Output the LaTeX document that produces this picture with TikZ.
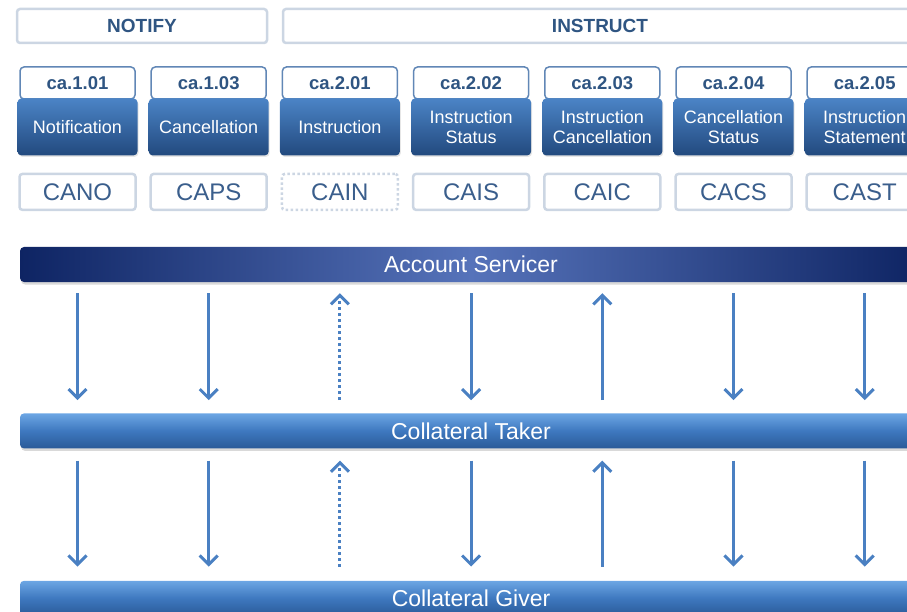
\documentclass[tikz,border=0pt]{standalone}
\usepackage{fontspec}
\setmainfont{Liberation Sans}
\usetikzlibrary{positioning,arrows.meta,shadows}
\definecolor{hdrblue}{HTML}{2F5582}
\definecolor{codeblue}{HTML}{3A5E8C}
\definecolor{paleline}{HTML}{CCD6E3}
\definecolor{tabline}{HTML}{6187B6}
\definecolor{msgtop}{HTML}{4B84C6}
\definecolor{msgbot}{HTML}{22497E}
\definecolor{navy}{HTML}{0E2463}
\definecolor{navymid}{HTML}{5673BA}
\definecolor{bartop}{HTML}{6CA6E4}
\definecolor{barmid}{HTML}{3E78BF}
\definecolor{barbot}{HTML}{2A5A98}
\definecolor{flowblue}{HTML}{4A80C2}
\tikzstyle{header} = [rectangle, draw=paleline, line width=2.5pt, fill=white, rounded corners=3pt, minimum height=34pt, text=hdrblue, font=\bfseries\fontsize{19}{22}\selectfont]
\tikzstyle{msgtab} = [rectangle, draw=tabline, line width=1.5pt, fill=white, rounded corners=4pt, minimum width=115pt, minimum height=32pt, text=hdrblue, font=\bfseries\fontsize{18.5}{20}\selectfont]
\tikzstyle{msgbox} = [rectangle, top color=msgtop, bottom color=msgbot, rounded corners=4pt, minimum width=120pt, minimum height=57pt, text=white, align=center, font=\fontsize{18}{20}\selectfont, drop shadow={opacity=0.2, shadow xshift=1pt, shadow yshift=-1.5pt}]
\tikzstyle{code} = [rectangle, draw=paleline, line width=2.5pt, fill=white, rounded corners=3pt, minimum width=116pt, minimum height=36pt, text=codeblue, font=\fontsize{24}{26}\selectfont]
\tikzstyle{bar} = [rectangle, rounded corners=4pt, minimum width=902pt, minimum height=35pt, text=white, font=\fontsize{23}{25}\selectfont, drop shadow={opacity=0.3, shadow xshift=1pt, shadow yshift=-2.5pt}]
\tikzstyle{flow} = [draw=flowblue, line width=3pt, -{Straight Barb[length=9pt, width=18pt]}]

\begin{document}
\begin{tikzpicture}[x=1pt, y=-1pt]
    \useasboundingbox (0,0) rectangle (907,612);
    \clip (0,0) rectangle (907,612);

    % headers
    \node[header, minimum width=250pt] (notify) at (142,26) {NOTIFY};
    \node[header, minimum width=634pt] (instruct) at (600,26) {INSTRUCT};

    % message tabs
    \node[msgtab] (tab1) at (77.5,83) {ca.1.01};
    \node[msgtab, right=14.7pt of tab1] (tab2) {ca.1.03};
    \node[msgtab, right=14.7pt of tab2] (tab3) {ca.2.01};
    \node[msgtab, right=14.7pt of tab3] (tab4) {ca.2.02};
    \node[msgtab, right=14.7pt of tab4] (tab5) {ca.2.03};
    \node[msgtab, right=14.7pt of tab5] (tab6) {ca.2.04};
    \node[msgtab, right=14.7pt of tab6] (tab7) {ca.2.05};

    % message names
    \node[msgbox, below=-1.5pt of tab1] (msg1) {Notification};
    \node[msgbox, below=-1.5pt of tab2] (msg2) {Cancellation};
    \node[msgbox, below=-1.5pt of tab3] (msg3) {Instruction};
    \node[msgbox, below=-1.5pt of tab4] (msg4) {Instruction\\Status};
    \node[msgbox, below=-1.5pt of tab5] (msg5) {Instruction\\Cancellation};
    \node[msgbox, below=-1.5pt of tab6] (msg6) {Cancellation\\Status};
    \node[msgbox, below=-1.5pt of tab7] (msg7) {Instruction\\Statement};

    % codes
    \node[code, below=17pt of msg1] (code1) {CANO};
    \node[code, below=17pt of msg2] (code2) {CAPS};
    \node[code, below=17pt of msg3, dash pattern=on 2.5pt off 2.5pt] (code3) {CAIN};
    \node[code, below=17pt of msg4] (code4) {CAIS};
    \node[code, below=17pt of msg5] (code5) {CAIC};
    \node[code, below=17pt of msg6] (code6) {CACS};
    \node[code, below=17pt of msg7] (code7) {CAST};

    % parties
    \node[bar, left color=navy, right color=navy, middle color=navymid] (servicer) at (471,264.5) {Account Servicer};
    \node[bar, top color=bartop, bottom color=barbot, middle color=barmid, below=131pt of servicer] (taker) {Collateral Taker};
    \node[bar, top color=bartop, bottom color=barbot, middle color=barmid, below=132pt of taker] (giver) {Collateral Giver};

    % servicer <-> taker
    \draw[flow, shorten <=11pt, shorten >=13pt] (servicer.south -| msg1) -- (taker.north -| msg1);
    \draw[flow, shorten <=11pt, shorten >=13pt] (servicer.south -| msg2) -- (taker.north -| msg2);
    \draw[flow, dash pattern=on 3pt off 3pt, shorten <=13pt, shorten >=11pt] (taker.north -| msg3) -- (servicer.south -| msg3);
    \draw[flow, shorten <=11pt, shorten >=13pt] (servicer.south -| msg4) -- (taker.north -| msg4);
    \draw[flow, shorten <=13pt, shorten >=11pt] (taker.north -| msg5) -- (servicer.south -| msg5);
    \draw[flow, shorten <=11pt, shorten >=13pt] (servicer.south -| msg6) -- (taker.north -| msg6);
    \draw[flow, shorten <=11pt, shorten >=13pt] (servicer.south -| msg7) -- (taker.north -| msg7);

    % taker <-> giver
    \draw[flow, shorten <=12pt, shorten >=14pt] (taker.south -| msg1) -- (giver.north -| msg1);
    \draw[flow, shorten <=12pt, shorten >=14pt] (taker.south -| msg2) -- (giver.north -| msg2);
    \draw[flow, dash pattern=on 3pt off 3pt, shorten <=14pt, shorten >=12pt] (giver.north -| msg3) -- (taker.south -| msg3);
    \draw[flow, shorten <=12pt, shorten >=14pt] (taker.south -| msg4) -- (giver.north -| msg4);
    \draw[flow, shorten <=14pt, shorten >=12pt] (giver.north -| msg5) -- (taker.south -| msg5);
    \draw[flow, shorten <=12pt, shorten >=14pt] (taker.south -| msg6) -- (giver.north -| msg6);
    \draw[flow, shorten <=12pt, shorten >=14pt] (taker.south -| msg7) -- (giver.north -| msg7);
\end{tikzpicture}
\end{document}
